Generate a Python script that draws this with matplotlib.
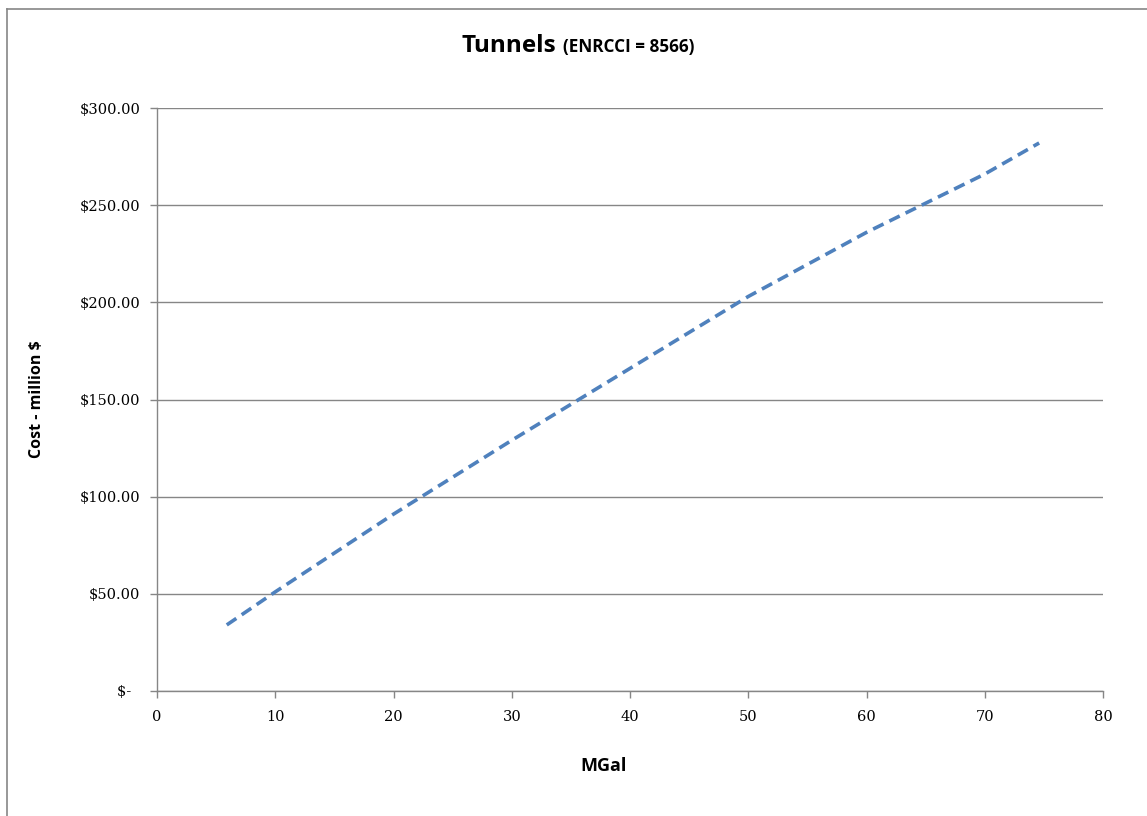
import matplotlib.pyplot as plt
from matplotlib.lines import Line2D
from matplotlib.ticker import FuncFormatter, MultipleLocator

# tunnel cost curve, capacity in MGal vs cost in million $
mgal = [5.9, 10, 20, 30, 40, 50, 60, 70, 74.6]
cost = [34, 51, 91, 129, 166, 203, 236, 266, 282]

title_main = "Tunnels"
title_note = "(ENRCCI = 8566)"

blue = "#4F81BD"
grey = "#868686"

fig = plt.figure(figsize=(11.47, 8.16), dpi=100)
ax = fig.add_axes([157 / 1147, 1 - 691 / 816, (1103 - 157) / 1147, (691 - 108) / 816])

ax.plot(mgal, cost, color=blue, lw=2.6, linestyle=(0, (3.2, 1.8)), solid_capstyle="butt")

ax.set_xlim(0, 80)
ax.set_ylim(0, 300)
ax.xaxis.set_major_locator(MultipleLocator(10))
ax.yaxis.set_major_locator(MultipleLocator(50))


def money(v, pos):
    if abs(v) < 1e-9:
        return "$-  "
    return "${:,.2f}".format(v)


ax.yaxis.set_major_formatter(FuncFormatter(money))
ax.grid(axis="y", color=grey, lw=1.0)
ax.set_axisbelow(True)

for side in ("top", "right"):
    ax.spines[side].set_visible(False)
for side in ("left", "bottom"):
    ax.spines[side].set_color(grey)
    ax.spines[side].set_linewidth(1.0)

ax.tick_params(axis="both", direction="out", length=5, width=1, color=grey,
               labelsize=10.5, labelcolor="black")
ax.tick_params(axis="x", pad=9)
ax.tick_params(axis="y", pad=7)
for lab in ax.get_xticklabels() + ax.get_yticklabels():
    lab.set_family("DejaVu Serif")

ax.set_xlabel("MGal", fontsize=13, fontweight="bold", family="Open Sans", va="center")
ax.set_ylabel("Cost - million $", fontsize=11.5, fontweight="bold", family="Open Sans", va="center")
ax.xaxis.set_label_coords((604 - 157) / 946, (691 - 766) / 583)
ax.yaxis.set_label_coords((37 - 157) / 946, 0.5)

# title in two sizes
fig.text(556 / 1147, 1 - 52 / 816, title_main, ha="right", va="baseline",
         fontsize=17.5, fontweight="bold", family="Open Sans")
fig.text(563 / 1147, 1 - 52 / 816, title_note, ha="left", va="baseline",
         fontsize=12.3, fontweight="bold", family="Open Sans")

# chart frame along top and left edges
fig.add_artist(Line2D([7 / 1147, 1], [1 - 9 / 816, 1 - 9 / 816], color=grey, lw=1.2,
                      transform=fig.transFigure))
fig.add_artist(Line2D([7 / 1147, 7 / 1147], [0, 1 - 9 / 816], color=grey, lw=1.2,
                      transform=fig.transFigure))

fig.savefig("out.png", dpi=100)
